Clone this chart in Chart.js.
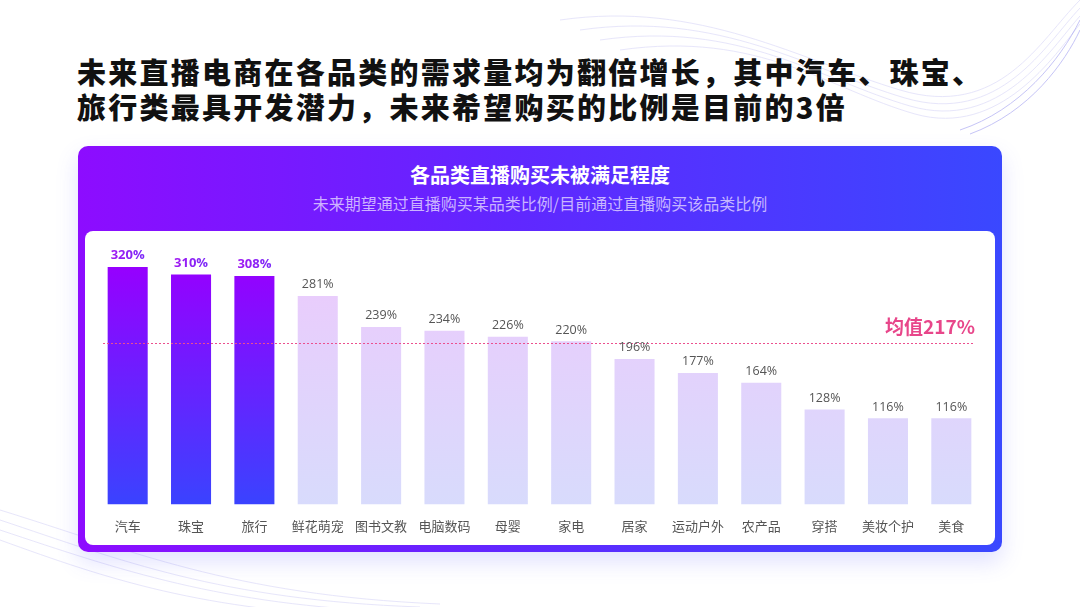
<!DOCTYPE html>
<html><head><meta charset="utf-8">
<script src="https://cdn.jsdelivr.net/npm/chart.js@4.4.1/dist/chart.umd.min.js"></script>
<style>
html,body{margin:0;padding:0;background:#fff;}
#page{position:relative;width:1080px;height:607px;overflow:hidden;background:#fff;font-family:"Noto Sans CJK SC","Noto Sans",sans-serif;}
#deco{position:absolute;left:0;top:0;}
#title{position:absolute;left:77px;top:54px;font-size:29px;font-weight:900;line-height:35px;color:#111;letter-spacing:2.25px;white-space:nowrap;}
#card{position:absolute;left:78px;top:146px;width:924px;height:406px;border-radius:10px;background:linear-gradient(90deg,#8D0CFF 0%,#6226FF 45%,#3A48FF 100%);box-shadow:0 10px 22px rgba(90,90,255,0.18);}
#ct{position:absolute;left:0;width:100%;top:14px;text-align:center;color:#fff;font-size:20px;font-weight:700;}
#cs{position:absolute;left:0;width:100%;top:45px;text-align:center;color:rgba(226,214,255,0.82);font-size:16px;}
#panel{position:absolute;left:7px;top:85px;width:910px;height:314px;background:#fff;border-radius:8px;}
#cv{position:absolute;left:0;top:0;}
</style></head>
<body><div id="page">
<svg id="deco" width="1080" height="607">
 <g fill="none" stroke="#c9c7f5" stroke-width="0.8" opacity="0.55">
  <path d="M560 20 C700 0 800 60 900 90 S1040 40 1080 0"/>
  <path d="M580 30 C720 10 810 70 905 98 S1045 45 1080 8"/>
  <path d="M600 40 C740 20 820 80 910 106 S1050 50 1080 16"/>
  <path d="M620 50 C760 30 830 90 915 114 S1055 55 1080 24"/>
  <path d="M0 520 C120 560 220 600 420 607"/>
  <path d="M0 530 C120 570 220 605 400 612"/>
  <path d="M0 540 C110 580 200 610 380 618"/>
  <path d="M0 510 C130 550 230 595 440 604"/>
 </g>
 <g fill="none" stroke="#8f8cf0" stroke-width="1" opacity="0.5">
  <path d="M960 130 C1020 110 1060 60 1080 20"/>
  <path d="M970 134 C1030 112 1065 62 1080 30"/>
 </g>
</svg>
<div id="title">未来直播电商在各品类的需求量均为翻倍增长，其中汽车、珠宝、<br>旅行类最具开发潜力，未来希望购买的比例是目前的3倍</div>
<div id="card">
 <div id="ct">各品类直播购买未被满足程度</div>
 <div id="cs">未来期望通过直播购买某品类比例/目前通过直播购买该品类比例</div>
 <div id="panel"><canvas id="cv" width="910" height="314"></canvas></div>
</div>
</div>
<script>
const categories = ["汽车","珠宝","旅行","鲜花萌宠","图书文教","电脑数码","母婴","家电","居家","运动户外","农产品","穿搭","美妆个护","美食"];
const values = [320,310,308,281,239,234,226,220,196,177,164,128,116,116];
const highlightCount = 3;
const averageValue = 217;
const averageLabel = "均值217%";

function barColor(ctx){
  const chart = ctx.chart, ca = chart.chartArea;
  if(!ca) return '#ccc';
  const y = chart.scales.y;
  const g = chart.ctx.createLinearGradient(0, y.getPixelForValue(320), 0, ca.bottom);
  if(ctx.dataIndex < highlightCount){
    g.addColorStop(0,'#9600FF'); g.addColorStop(1,'#3A43FF');
  } else {
    g.addColorStop(0,'#EBCBFC'); g.addColorStop(1,'#D8DBFC');
  }
  return g;
}

const overlay = {
  id:'overlay',
  afterDatasetsDraw(chart){
    const c = chart.ctx, ca = chart.chartArea, ys = chart.scales.y;
    const yy = Math.round(ys.getPixelForValue(averageValue))+0.5;
    c.save();
    c.strokeStyle='#EC4F8E'; c.lineWidth=1; c.setLineDash([2,2]);
    c.beginPath(); c.moveTo(ca.left+7,yy); c.lineTo(ca.right-8,yy); c.stroke();
    c.setLineDash([]);
    c.fillStyle='#E8468A'; c.font='700 19px "Noto Sans CJK SC", sans-serif';
    c.textAlign='right'; c.textBaseline='alphabetic';
    c.fillText(averageLabel, ca.right-8, yy-10);
    const meta = chart.getDatasetMeta(0);
    meta.data.forEach((bar,i)=>{
      c.textAlign='center'; c.textBaseline='bottom';
      if(i<highlightCount){
        c.font='700 13px "Open Sans", sans-serif';
        const g=c.createLinearGradient(bar.x-18,0,bar.x+18,0);
        g.addColorStop(0,'#A318F2'); g.addColorStop(1,'#7A2CF8');
        c.fillStyle=g;
      } else {
        c.font='400 12.5px "Open Sans", sans-serif';
        c.fillStyle='#555';
      }
      c.fillText(values[i]+'%', bar.x, bar.y-5);
    });
    c.restore();
  }
};

new Chart(document.getElementById('cv'),{
  type:'bar',
  data:{labels:categories,datasets:[{data:values,backgroundColor:barColor,barPercentage:0.632,categoryPercentage:1,borderWidth:0}]},
  options:{
    responsive:false,animation:false,
    layout:{padding:{left:11,right:12,top:36,bottom:-3}},
    plugins:{legend:{display:false},tooltip:{enabled:false}},
    scales:{
      x:{grid:{display:false,drawTicks:false},border:{display:false},ticks:{color:'#555',padding:14,maxRotation:0,font:{size:13,family:'"Noto Sans CJK SC", sans-serif'}}},
      y:{display:false,min:0,max:320}
    }
  },
  plugins:[overlay]
});
</script>
</body></html>
